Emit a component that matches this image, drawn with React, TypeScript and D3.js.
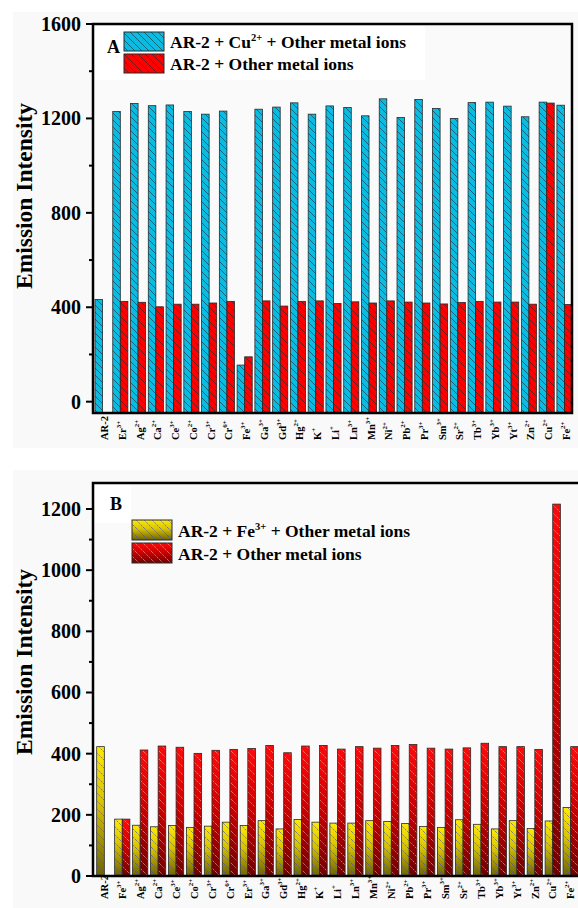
import React from 'react';
import * as d3 from 'd3';

// ---------- DATA ----------
const elementsA = ['AR-2','Er','Ag','Ca','Ce','Co','Cr','Cr','Fe','Ga','Gd','Hg','K','Li','Ln','Mn','Ni','Pb','Pr','Sm','Sr','Tb','Yb','Yt','Zn','Cu','Fe'];
const chargesA = ['','3+','2+','2+','3+','2+','3+','6+','3+','3+','3+','2+','+','+','3+','3+','2+','2+','3+','3+','2+','3+','3+','3+','2+','2+','2+'];
const cuPlusOthersA = [433,1229,1263,1254,1257,1229,1218,1231,155,1239,1248,1266,1218,1253,1246,1211,1283,1204,1280,1242,1200,1267,1269,1252,1207,1269,1256];
const othersA = [0,425,421,402,413,413,418,425,190,427,405,425,427,416,423,418,427,422,418,414,420,425,422,422,413,1265,412];

const elementsB = ['AR-2','Fe','Ag','Ca','Ce','Co','Cr','Cr','Er','Ga','Gd','Hg','K','Li','Ln','Mn','Ni','Pb','Pr','Sm','Sr','Tb','Yb','Yt','Zn','Cu','Fe'];
const chargesB = ['','3+','2+','2+','3+','2+','3+','6+','3+','3+','3+','2+','+','+','3+','3+','2+','2+','3+','3+','2+','3+','3+','3+','2+','2+','2+'];
const fePlusOthersB = [423,186,166,161,165,159,163,176,165,181,154,185,176,173,173,181,178,172,162,159,184,169,154,181,155,180,224];
const othersB = [0,186,412,425,421,401,411,414,417,427,403,425,427,415,423,418,427,430,418,415,419,434,423,423,414,1216,423];

const ticksMajorA = [0,400,800,1200,1600];
const ticksMinorA = [200,600,1000,1400];
const ticksMajorB = [0,200,400,600,800,1000,1200];
const ticksMinorB = [100,300,500,700,900,1100];

const legendA = ['AR-2 + Cu', '2+', ' + Other metal ions', 'AR-2 + Other metal ions'];
const legendB = ['AR-2 + Fe', '3+', ' + Other metal ions', 'AR-2 + Other metal ions'];

const FONT = "'Liberation Serif', 'Times New Roman', Times, serif";
const tf = (size: number): React.CSSProperties => ({ fontFamily: FONT, fontWeight: 700, fontSize: size });

type PanelProps = {
  elements: string[]; charges: string[]; s1: number[]; s2: number[];
  left: number; right: number; top: number; bottom: number; bandStart: number; bandEnd: number;
  yDomain: [number, number]; major: number[]; minor: number[];
  fill1: string; fill2: string; hatch1: string; hatch2: string;
  labelY: number; labelDx: number; titleY: number;
  letter: string; letterPos: [number, number]; legend: string[];
  legX: number; legY: number; legW: number; legH: number; legFont: number;
  bgRect: [number, number, number, number]; whiteRect: [number, number, number, number];
};

function Panel(p: PanelProps) {
  const idx = p.elements.map((_, i) => String(i));
  const x = d3.scaleBand<string>().domain(idx).range([p.bandStart, p.bandEnd]).paddingInner(0.15).paddingOuter(0);
  const y = d3.scaleLinear().domain(p.yDomain).range([p.bottom, p.top]);
  const bw = x.bandwidth();
  const half = bw / 2;
  const base = y(p.yDomain[0]);
  const bars: React.ReactElement[] = [];
  p.s1.forEach((v, i) => {
    const x0 = x(String(i))!;
    const series = [
      { v, fill: p.fill1, hatch: p.hatch1, xx: x0 },
      { v: p.s2[i], fill: p.fill2, hatch: p.hatch2, xx: x0 + half },
    ];
    series.forEach((s, k) => {
      if (!s.v) return;
      const yt = y(s.v);
      bars.push(
        <g key={`b${i}-${k}`}>
          <rect x={s.xx} y={yt} width={half} height={base - yt} fill={s.fill} />
          <rect x={s.xx} y={yt} width={half} height={base - yt} fill={s.hatch} />
          <rect x={s.xx} y={yt} width={half} height={base - yt} fill="none" stroke="#2a2a2a" strokeWidth={0.8} />
        </g>
      );
    });
  });
  const w = p.whiteRect;
  return (
    <g>
      <rect x={p.bgRect[0]} y={p.bgRect[1]} width={p.bgRect[2]} height={p.bgRect[3]} fill="#f9f9f9" />
      <rect x={p.left} y={p.top} width={p.right - p.left} height={p.bottom - p.top} fill="#fafafa" />
      <rect x={w[0]} y={w[1]} width={w[2]} height={w[3]} fill="#ffffff" />
      {bars}
      <rect x={p.left} y={p.top} width={p.right - p.left} height={p.bottom - p.top} fill="none" stroke="#000" strokeWidth={2.5} />
      {p.major.map(t => (
        <g key={`M${t}`}>
          <line x1={p.left - 7} x2={p.left} y1={y(t)} y2={y(t)} stroke="#000" strokeWidth={2} />
          <text x={p.left - 12} y={y(t)} textAnchor="end" dominantBaseline="central" style={tf(20)}>{t}</text>
        </g>
      ))}
      {p.minor.map(t => (
        <line key={`m${t}`} x1={p.left - 4} x2={p.left} y1={y(t)} y2={y(t)} stroke="#000" strokeWidth={2} />
      ))}
      <text transform={`translate(32,${p.titleY}) rotate(-90)`} textAnchor="middle" style={tf(23.5)}>Emission Intensity</text>
      {p.elements.map((el, i) => {
        const cx = x(String(i))! + bw / 2 + p.labelDx;
        return (
          <text key={`l${i}`} transform={`translate(${cx},${p.labelY}) rotate(-90)`} textAnchor="start" style={tf(10.5)}>
            {el}
            {p.charges[i] ? <tspan style={{ fontSize: 7 }} dy={-5}>{p.charges[i]}</tspan> : null}
          </text>
        );
      })}
      <text x={p.letterPos[0]} y={p.letterPos[1]} style={tf(18)}>{p.letter}</text>
      {[0, 1].map(k => {
        const ly = p.legY + k * (p.legH + 3);
        return (
          <g key={`lg${k}`}>
            <rect x={p.legX} y={ly} width={p.legW} height={p.legH} fill={k === 0 ? p.fill1 : p.fill2} />
            <rect x={p.legX} y={ly} width={p.legW} height={p.legH} fill={k === 0 ? p.hatch1 : p.hatch2} />
            <rect x={p.legX} y={ly} width={p.legW} height={p.legH} fill="none" stroke="#2a2a2a" strokeWidth={1} />
            {k === 0 ? (
              <text x={p.legX + p.legW + 6} y={ly + p.legH - 3} style={tf(p.legFont)}>
                {p.legend[0]}<tspan style={{ fontSize: p.legFont * 0.6 }} dy={-7}>{p.legend[1]}</tspan><tspan dy={7}>{p.legend[2]}</tspan>
              </text>
            ) : (
              <text x={p.legX + p.legW + 6} y={ly + p.legH - 3} style={tf(p.legFont)}>{p.legend[3]}</text>
            )}
          </g>
        );
      })}
    </g>
  );
}

export default function App() {
  return (
    <svg width={578} height={908} style={{ position: 'absolute', left: 0, top: 0, background: '#ffffff' }}>
      <defs>
        <pattern id="hatchA" patternUnits="userSpaceOnUse" width={7} height={7}>
          <path d="M-2,-2 L9,9 M-2,5 L2,9 M5,-2 L9,2" stroke="#1a2a30" strokeWidth={0.7} opacity={0.85} />
        </pattern>
        <pattern id="hatchBY" patternUnits="userSpaceOnUse" width={8} height={8}>
          <path d="M-2,-2 L10,10 M-2,6 L2,10 M6,-2 L10,2" stroke="#3a4fd0" strokeWidth={0.7} strokeDasharray="1.5,1" />
        </pattern>
        <pattern id="hatchBR" patternUnits="userSpaceOnUse" width={8} height={8}>
          <path d="M-2,-2 L10,10 M-2,6 L2,10 M6,-2 L10,2" stroke="#ffc0c0" strokeWidth={0.7} strokeDasharray="1.5,1" opacity={0.85} />
        </pattern>
        <linearGradient id="gradY" x1="0" y1="0" x2="0" y2="1">
          <stop offset="0" stopColor="#ffea00" />
          <stop offset="0.45" stopColor="#d8c200" />
          <stop offset="1" stopColor="#6e6200" />
        </linearGradient>
        <linearGradient id="gradR" x1="0" y1="0" x2="0" y2="1">
          <stop offset="0" stopColor="#ff0a0a" />
          <stop offset="0.45" stopColor="#d00000" />
          <stop offset="1" stopColor="#700000" />
        </linearGradient>
      </defs>
      <Panel
        elements={elementsA} charges={chargesA} s1={cuPlusOthersA} s2={othersA}
        left={93} right={572} top={24} bottom={413} bandStart={95} bandEnd={572}
        yDomain={[-48, 1600]} major={ticksMajorA} minor={ticksMinorA}
        fill1="#0bbbe2" fill2="#ff0000" hatch1="url(#hatchA)" hatch2="url(#hatchA)"
        labelY={440} labelDx={5.5} titleY={196}
        letter="A" letterPos={[107, 53]} legend={legendA}
        legX={124} legY={32} legW={40} legH={19} legFont={17.5}
        bgRect={[13, 12, 565, 436]} whiteRect={[95, 26, 330, 54]}
      />
      <Panel
        elements={elementsB} charges={chargesB} s1={fePlusOthersB} s2={othersB}
        left={93} right={582} top={483} bottom={876} bandStart={96.7} bandEnd={578.3}
        yDomain={[0, 1285]} major={ticksMajorB} minor={ticksMinorB}
        fill1="url(#gradY)" fill2="url(#gradR)" hatch1="url(#hatchBY)" hatch2="url(#hatchBR)"
        labelY={899} labelDx={3.7} titleY={662}
        letter="B" letterPos={[110, 510]} legend={legendB}
        legX={132} legY={520} legW={40} legH={20} legFont={17.5}
        bgRect={[13, 470, 565, 438]} whiteRect={[95, 485, 36, 38]}
      />
    </svg>
  );
}
